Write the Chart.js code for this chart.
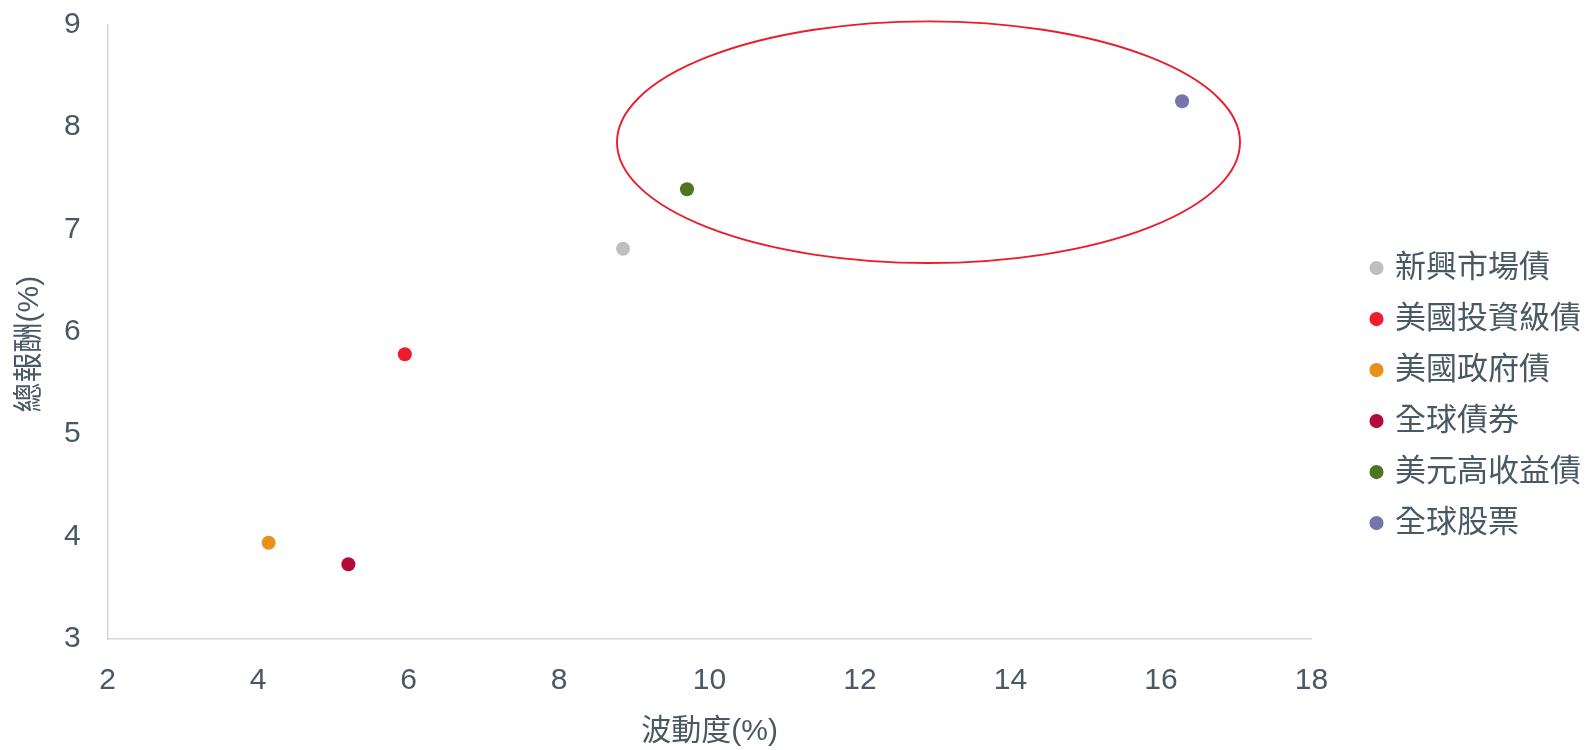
<!DOCTYPE html>
<html>
<head>
<meta charset="utf-8">
<script src="https://cdn.jsdelivr.net/npm/chart.js@4.4.1/dist/chart.umd.min.js"></script>
<style>
    html, body { margin: 0; padding: 0; background: #ffffff; }
    #wrap { width: 1591px; height: 750px; position: relative; }
</style>
</head>
<body>
<div id="wrap"><canvas id="riskChart"></canvas></div>
<script>
// data
const categories = ["新興市場債", "美國投資級債", "美國政府債", "全球債券", "美元高收益債", "全球股票"];
const volatility = [8.85, 5.95, 4.14, 5.20, 9.70, 16.28];   // x, 波動度(%)
const totalReturn = [6.81, 5.78, 3.94, 3.73, 7.39, 8.25];    // y, 總報酬(%)
const pointColors = ["#bfbfbf", "#ed1c2e", "#e8901c", "#b30a3c", "#4e7521", "#7574ab"];
const xTicks = [2, 4, 6, 8, 10, 12, 14, 16, 18];
const yTicks = [3, 4, 5, 6, 7, 8, 9];

const textColor = "#4a5864";
const fontFamily = "'Liberation Sans', Arial, 'Noto Sans CJK TC', sans-serif";

// red ellipse round the high-return group, given in data units
const highlight = { cx: 12.91, cy: 7.85, rx: 4.14, ry: 1.18 };

const ellipsePlugin = {
    id: "ellipse",
    afterDatasetsDraw(chart) {
        const { ctx, scales } = chart;
        const cx = scales.x.getPixelForValue(highlight.cx);
        const cy = scales.y.getPixelForValue(highlight.cy);
        const rx = Math.abs(scales.x.getPixelForValue(highlight.cx + highlight.rx) - cx);
        const ry = Math.abs(scales.y.getPixelForValue(highlight.cy + highlight.ry) - cy);
        ctx.save();
        ctx.beginPath();
        ctx.ellipse(cx, cy, rx, ry, 0, 0, Math.PI * 2);
        ctx.strokeStyle = "#ec1c2a";
        ctx.lineWidth = 1.9;
        ctx.stroke();
        ctx.restore();
    }
};

const datasets = categories.map((name, i) => ({
    label: name,
    data: [{ x: volatility[i], y: totalReturn[i] }],
    backgroundColor: pointColors[i],
    borderColor: pointColors[i],
    borderWidth: 0,
    pointRadius: 7,
    pointHoverRadius: 7
}));

new Chart(document.getElementById("riskChart").getContext("2d"), {
    type: "scatter",
    data: { datasets },
    plugins: [ellipsePlugin],
    options: {
        responsive: true,
        maintainAspectRatio: false,
        animation: false,
        layout: { padding: { top: 24.4, left: 0, right: 0, bottom: 0 } },
        plugins: {
            tooltip: { enabled: false },
            legend: {
                position: "right",
                align: "start",
                title: { display: true, text: " ", font: { size: 1 }, padding: { top: 207, bottom: 0 } },
                labels: {
                    usePointStyle: true,
                    pointStyle: "circle",
                    boxWidth: 6,
                    boxHeight: 10,
                    padding: 20,
                    color: textColor,
                    font: { family: fontFamily, size: 31 }
                }
            }
        },
        scales: {
            x: {
                type: "linear",
                min: xTicks[0],
                max: xTicks[xTicks.length - 1],
                afterBuildTicks: (s) => { s.ticks = xTicks.map(v => ({ value: v })); },
                afterFit: (s) => { s.height = 111; },
                grid: { display: false },
                border: { display: true, color: "#d3d8dc", width: 1.5 },
                ticks: { color: textColor, padding: 16, font: { family: fontFamily, size: 30 } },
                title: {
                    display: true,
                    text: "波動度(%)",
                    color: textColor,
                    padding: 0,
                    font: { family: fontFamily, size: 30 }
                }
            },
            y: {
                type: "linear",
                min: yTicks[0],
                max: yTicks[yTicks.length - 1],
                afterBuildTicks: (s) => { s.ticks = yTicks.map(v => ({ value: v })); },
                afterFit: (s) => {
                    s.width = 107.6;
                    s.paddingTop = 0;     // top label may overhang the plot
                    s.paddingBottom = 0;
                },
                grid: { display: false },
                border: { display: true, color: "#d3d8dc", width: 1.5 },
                ticks: { color: textColor, padding: 19, font: { family: fontFamily, size: 30 } },
                title: {
                    display: true,
                    // trailing spaces push the rotated title a little lower, as in the original
                    text: "總報酬(%)   ",
                    color: textColor,
                    padding: { top: 12, bottom: 0 },
                    font: { family: fontFamily, size: 30 }
                }
            },
            // empty spacer axis between plot and legend
            gap: {
                type: "linear",
                position: "right",
                display: true,
                grid: { display: false },
                border: { display: false },
                ticks: { display: false },
                afterFit: (s) => { s.width = 42; s.paddingTop = 0; s.paddingBottom = 0; }
            }
        }
    }
});
</script>
</body>
</html>
